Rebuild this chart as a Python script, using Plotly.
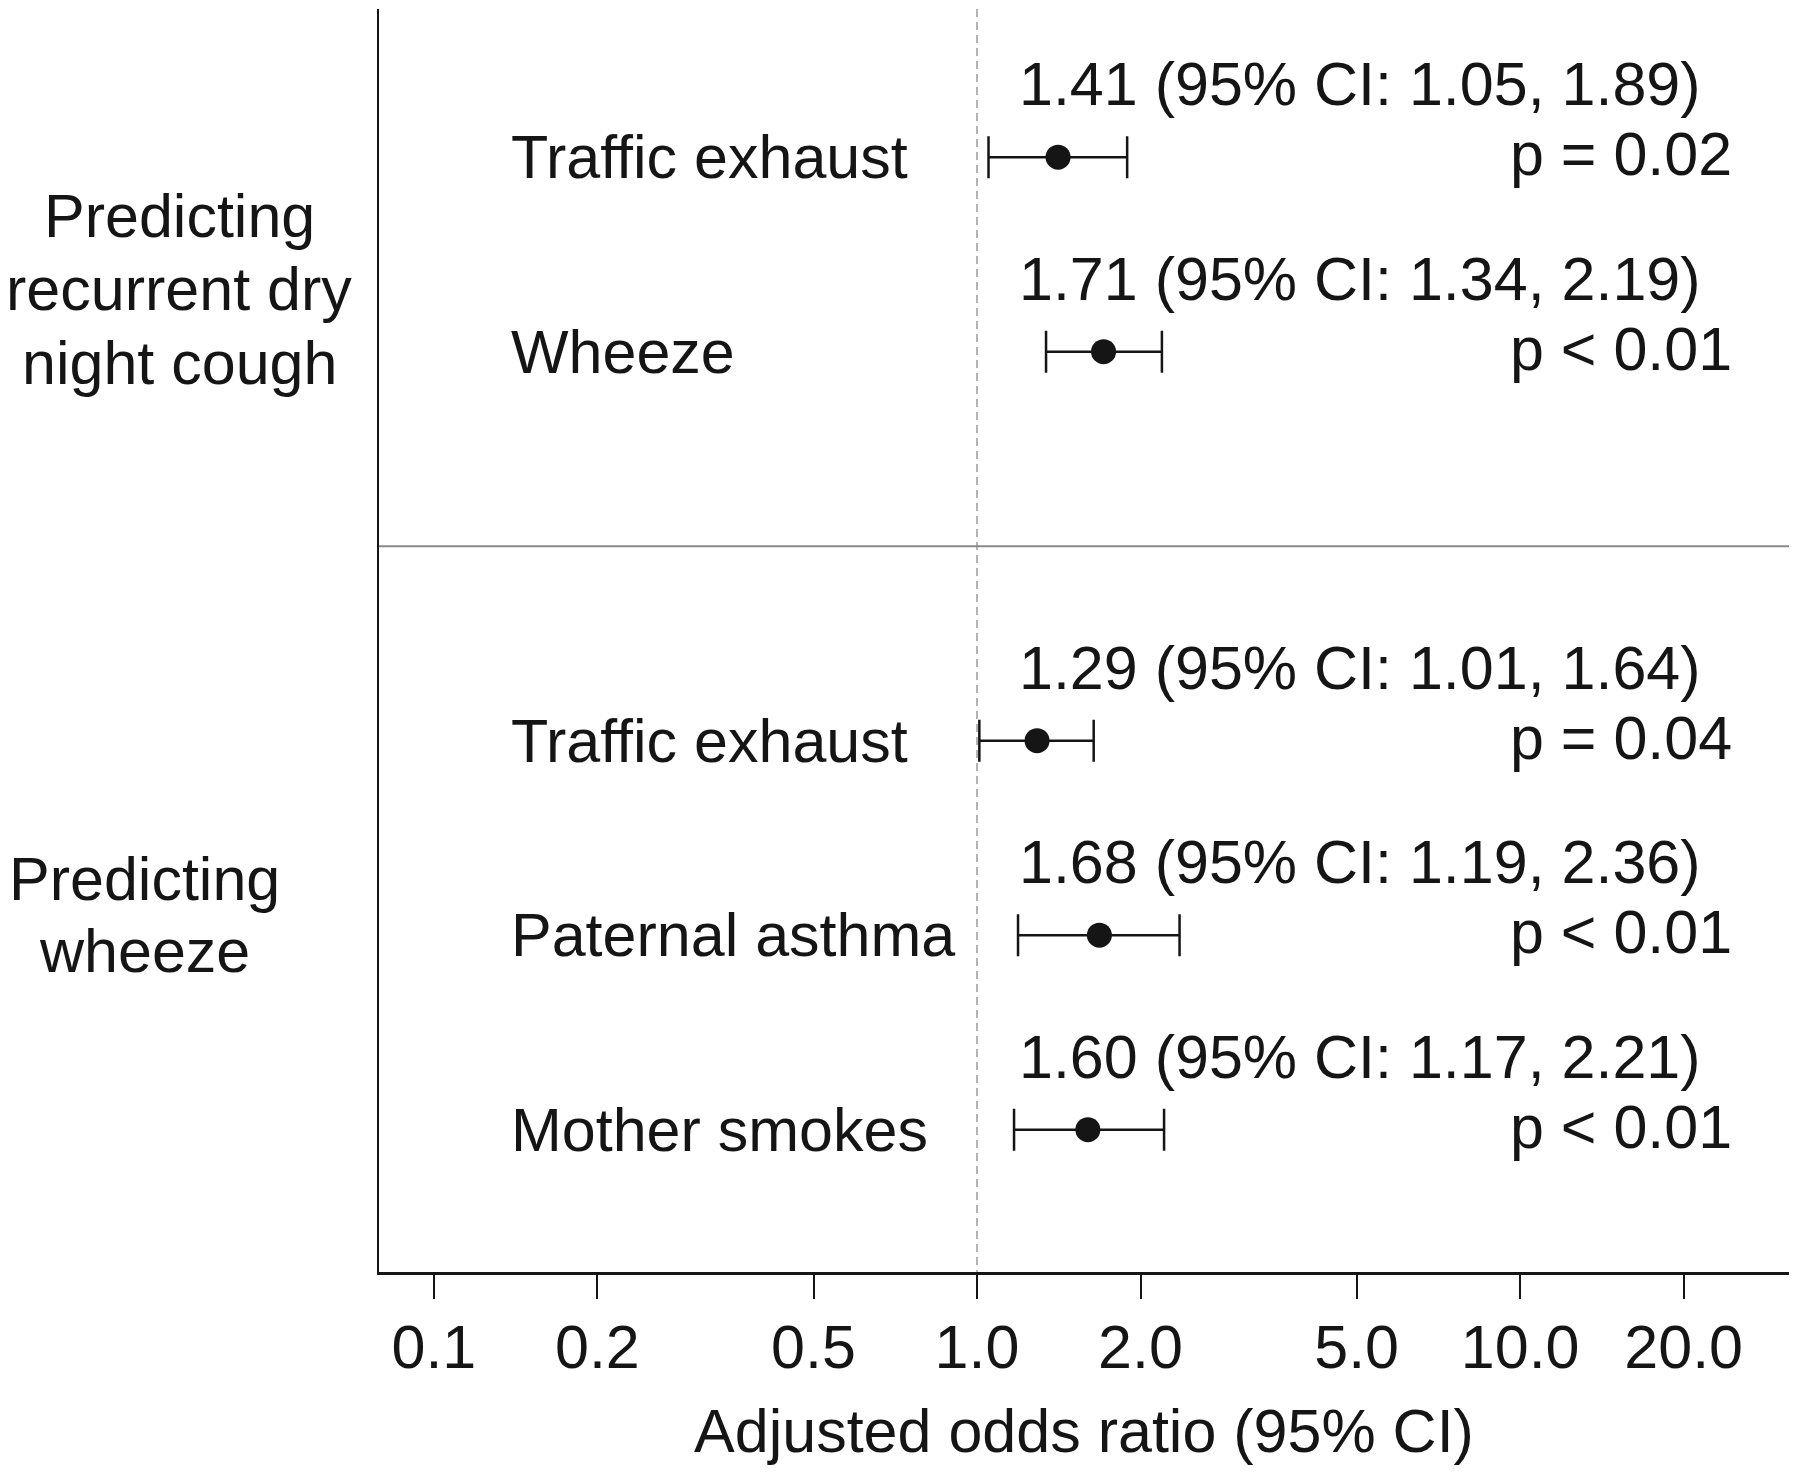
import plotly.graph_objects as go

# Forest plot data
row_labels = ["Traffic exhaust", "Wheeze", "Traffic exhaust", "Paternal asthma", "Mother smokes"]
row_pos = [0, 1, 3, 4, 5]
odds_ratio = [1.41, 1.71, 1.29, 1.68, 1.60]
ci_low = [1.05, 1.34, 1.01, 1.19, 1.17]
ci_high = [1.89, 2.19, 1.64, 2.36, 2.21]
p_text = ["p = 0.02", "p < 0.01", "p = 0.04", "p < 0.01", "p < 0.01"]

# outcome group labels, one entry per text line
group_lines = ["Predicting", "recurrent dry", "night cough", "Predicting", "wheeze"]
group_line_pos = [0.30, 0.68, 1.06, 3.71, 4.08]
group_line_x = [-0.1418, -0.1418, -0.1418, -0.166, -0.166]
separator_pos = 2

tick_vals = [0.1, 0.2, 0.5, 1.0, 2.0, 5.0, 10.0, 20.0]
tick_text = ["0.1", "0.2", "0.5", "1.0", "2.0", "5.0", "10.0", "20.0"]

FONT = "Liberation Sans, Arial, Helvetica, sans-serif"
FS = 61
INK = "#151515"

fig = go.Figure()

# reference line at OR = 1
fig.add_trace(go.Scatter(
    x=[1.0, 1.0], y=[-0.762, 5.732], mode="lines",
    line=dict(color="#9a9a9a", width=1.5, dash="8px,5px"),
    hoverinfo="skip", showlegend=False
))

fig.add_trace(go.Scatter(
    x=odds_ratio, y=row_pos, mode="markers",
    marker=dict(size=25, color=INK),
    error_x=dict(
        type="data", symmetric=False,
        array=[h - o for h, o in zip(ci_high, odds_ratio)],
        arrayminus=[o - l for o, l in zip(odds_ratio, ci_low)],
        color=INK, thickness=2.5, width=21
    ),
    showlegend=False
))

annotations = []
for lab, y, o, lo, hi, p in zip(row_labels, row_pos, odds_ratio, ci_low, ci_high, p_text):
    annotations.append(dict(x=0.0922, y=y, xref="paper", yref="y", text=lab,
                            showarrow=False, xanchor="left", yanchor="middle",
                            font=dict(size=FS, color=INK, family=FONT)))
    annotations.append(dict(x=0.4525, y=y - 0.375, xref="paper", yref="y",
                            text=f"{o:.2f} (95% CI: {lo:.2f}, {hi:.2f})",
                            showarrow=False, xanchor="left", yanchor="middle",
                            font=dict(size=FS, color=INK, family=FONT)))
    annotations.append(dict(x=0.961, y=y - 0.015, xref="paper", yref="y", text=p,
                            showarrow=False, xanchor="right", yanchor="middle",
                            font=dict(size=FS, color=INK, family=FONT)))

for g, y, x in zip(group_lines, group_line_pos, group_line_x):
    annotations.append(dict(x=x, y=y, xref="paper", yref="y", text=g,
                            showarrow=False, xanchor="center", yanchor="middle",
                            font=dict(size=FS, color=INK, family=FONT)))

fig.update_layout(
    width=1800, height=1479,
    margin=dict(l=379, r=11, t=9, b=207),
    plot_bgcolor="white", paper_bgcolor="white",
    font=dict(family=FONT, size=FS, color=INK),
    annotations=annotations,
    shapes=[dict(type="line", xref="paper", yref="y", x0=0, x1=1,
                 y0=separator_pos, y1=separator_pos,
                 line=dict(color="#8a8a8a", width=2))],
    xaxis=dict(
        type="log", range=[-1.101, 1.495],
        tickvals=tick_vals, ticktext=tick_text,
        ticks="outside", ticklen=24, tickwidth=2, tickcolor=INK,
        ticklabelstandoff=-4,
        showline=True, linecolor=INK, linewidth=3,
        showgrid=False, zeroline=False,
        tickfont=dict(size=FS, color=INK, family=FONT),
        title=dict(text="Adjusted odds ratio (95% CI)", standoff=30,
                   font=dict(size=FS, color=INK, family=FONT)),
    ),
    yaxis=dict(
        range=[5.732, -0.762], showticklabels=False, ticks="",
        showline=True, linecolor=INK, linewidth=2,
        showgrid=False, zeroline=False,
    ),
)

# drop the browser's default page margin so the figure sits at the window origin
fig.write_html("out.html", config={"displayModeBar": False},
               post_script="document.body.style.margin='0';document.body.style.overflow='hidden';")
